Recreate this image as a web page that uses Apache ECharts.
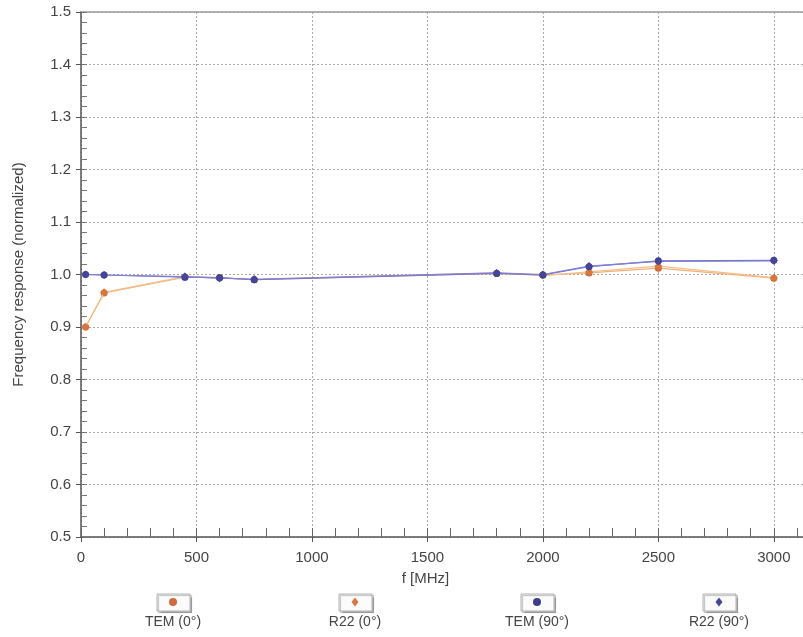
<!DOCTYPE html>
<html>
<head>
<meta charset="utf-8">
<script src="https://cdn.jsdelivr.net/npm/echarts@6/dist/echarts.min.js"></script>
<style>
html, body { margin: 0; padding: 0; background: #fff; overflow: hidden; }
/* the plot runs past the right edge of the window, as in the original */
#main { width: 820px; height: 637px; }
</style>
</head>
<body>
<div id="main"></div>
<script>
// frequencies (MHz) and normalized responses
var freqs = [20, 100, 450, 600, 750, 1800, 2000, 2200, 2500, 3000];
var tem0  = [0.900, 0.965, 0.995, 0.994, 0.990, 1.002, 0.999, 1.003, 1.012, 0.993];
var r22_0 = [0.900, 0.966, 0.996, 0.993, 0.991, 1.003, 0.998, 1.005, 1.016, 0.994];
var tem90 = [1.000, 0.999, 0.995, 0.994, 0.990, 1.002, 0.999, 1.015, 1.026, 1.027];
var r22_90 = [1.000, 0.999, 0.996, 0.993, 0.991, 1.003, 1.000, 1.016, 1.025, 1.026];

var seriesNames = ['TEM (0°)', 'R22 (0°)', 'TEM (90°)', 'R22 (90°)'];
var seriesData = [tem0, r22_0, tem90, r22_90];
var seriesSymbols = ['circle', 'diamond', 'circle', 'diamond'];
var markerColors = ['#cf6a3e', '#d9773f', '#3d3d8f', '#45459a'];
var lineColors = ['#f2b27a', '#f4bf8a', '#6f6fcf', '#8080d6'];

var labelFont = 'Liberation Sans, Arial, sans-serif';
var xMax = 3200;

function pairs(vals) {
    var out = [];
    for (var i = 0; i < freqs.length; i++) {
        out.push([freqs[i], vals[i]]);
    }
    return out;
}

var series = [];
for (var s = 0; s < seriesNames.length; s++) {
    series.push({
        name: seriesNames[s],
        type: 'line',
        data: pairs(seriesData[s]),
        symbol: seriesSymbols[s],
        symbolSize: seriesSymbols[s] == 'diamond' ? 8 : 7,
        showAllSymbol: true,
        itemStyle: { color: markerColors[s] },
        lineStyle: { color: lineColors[s], width: 1.2 },
        z: 3 + s
    });
}

// legend drawn as boxes with the label underneath, like the original
var legendX = [173, 355, 537, 719];
var legendItems = [];
for (var k = 0; k < seriesNames.length; k++) {
    var marker;
    if (seriesSymbols[k] == 'circle') {
        marker = { type: 'circle', shape: { cx: 0, cy: 0, r: 4 }, style: { fill: markerColors[k] } };
    } else {
        marker = { type: 'polygon', shape: { points: [[0, -4.5], [3.5, 0], [0, 4.5], [-3.5, 0]] }, style: { fill: markerColors[k] } };
    }
    legendItems.push({
        type: 'group',
        x: legendX[k],
        y: 602,
        children: [
            { type: 'rect', shape: { x: -16, y: -8, width: 33, height: 17 },
              style: { fill: '#fbfbfb', stroke: '#b0b0b0', lineWidth: 1,
                       shadowColor: 'rgba(0,0,0,0.25)', shadowOffsetX: 1.5, shadowOffsetY: 1.5, shadowBlur: 1 } },
            marker,
            { type: 'text', x: 0, y: 20,
              style: { text: seriesNames[k], fill: '#444', font: '14px ' + labelFont,
                       align: 'center', verticalAlign: 'middle' } }
        ]
    });
}

var chart = echarts.init(document.getElementById('main'));
var option = {
    animation: false,
    backgroundColor: '#fff',
    grid: { left: 81, top: 12, right: 0, bottom: 100 },
    xAxis: [{
        type: 'value',
        position: 'bottom',
        min: 0, max: xMax, interval: 500,
        name: 'f [MHz]',
        nameLocation: 'middle',
        nameGap: 34,
        nameTextStyle: { fontSize: 15, color: '#444', fontFamily: labelFont, padding: [0, 50, 0, 0] },
        axisLine: { lineStyle: { color: '#555', width: 1.5 } },
        axisTick: { show: true, inside: false, length: 5, lineStyle: { color: '#555' } },
        axisLabel: {
            fontSize: 15, color: '#444', fontFamily: labelFont, margin: 13,
            showMaxLabel: false,
            formatter: function (v) { return v % 500 == 0 ? String(v) : ''; }
        },
        splitLine: { show: true, lineStyle: { color: '#a8a8a8', type: [2, 2], width: 1 } }
    }, {
        type: 'value',
        position: 'bottom',
        min: 0, max: xMax, interval: 100,
        axisLine: { show: false },
        axisTick: { show: true, inside: true, length: 9, lineStyle: { color: '#666' } },
        axisLabel: { show: false },
        splitLine: { show: false }
    }, {
        type: 'value',
        position: 'top',
        min: 0, max: xMax,
        axisLine: { show: true, lineStyle: { color: '#9a9a9a', width: 1.5 } },
        axisTick: { show: false },
        axisLabel: { show: false },
        splitLine: { show: false }
    }],
    yAxis: [{
        type: 'value',
        position: 'left',
        min: 0.5, max: 1.5, interval: 0.1,
        name: 'Frequency response (normalized)',
        nameLocation: 'middle',
        nameGap: 55,
        nameTextStyle: { fontSize: 15, color: '#444', fontFamily: labelFont },
        axisLine: { show: true, lineStyle: { color: '#555', width: 1.5 } },
        axisTick: { show: true, inside: false, length: 5, lineStyle: { color: '#555' } },
        axisLabel: {
            fontSize: 15, color: '#444', fontFamily: labelFont, margin: 10,
            formatter: function (v) { return v.toFixed(1); }
        },
        splitLine: { show: true, lineStyle: { color: '#a8a8a8', type: [2, 2], width: 1 } }
    }, {
        type: 'value',
        position: 'left',
        min: 0.5, max: 1.5, interval: 0.02,
        axisLine: { show: false },
        axisTick: { show: true, inside: true, length: 6, lineStyle: { color: '#777' } },
        axisLabel: { show: false },
        splitLine: { show: false }
    }],
    series: series,
    graphic: legendItems
};
chart.setOption(option);
</script>
</body>
</html>
